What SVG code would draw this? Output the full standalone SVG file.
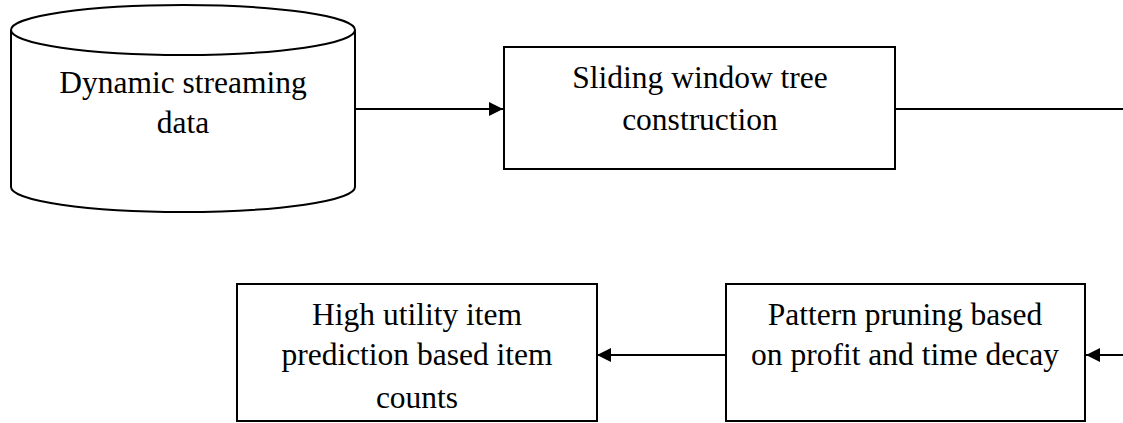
<svg xmlns="http://www.w3.org/2000/svg" width="1123" height="423" viewBox="0 0 1123 423">
<style>
.s{fill:none;stroke:#000;stroke-width:2}
.b{fill:#fff;stroke:#000;stroke-width:2}
.t{font-family:"Liberation Serif","Times New Roman",serif;font-size:31.5px;fill:#000;text-anchor:middle}
</style>
<defs>
<marker id="ah" markerWidth="14" markerHeight="14" refX="14" refY="7" orient="auto" markerUnits="userSpaceOnUse">
<path d="M0,0 L14,7 L0,14 Z" fill="#000"/>
</marker>
</defs>
<rect width="1123" height="423" fill="#fff"/>
<g id="connectors">
<line class="s" x1="356" y1="109" x2="503" y2="109" marker-end="url(#ah)"/>
<line class="s" x1="896" y1="109" x2="1123" y2="109"/>
<line class="s" x1="1123" y1="355" x2="1086" y2="355" marker-end="url(#ah)"/>
<line class="s" x1="726" y1="355" x2="597" y2="355" marker-end="url(#ah)"/>
</g>
<g id="node-data">
<path class="b" d="M11,30 A172,25 0 0 1 355,30 L355,187 A172,25 0 0 1 11,187 Z"/>
<path class="s" d="M11,30 A172,25 0 0 0 355,30"/>
<text class="t" x="183" y="93">Dynamic streaming</text>
<text class="t" x="183" y="133">data</text>
</g>
<g id="node-sliding">
<rect class="b" x="504" y="47" width="391" height="122"/>
<text class="t" x="700" y="88">Sliding window tree</text>
<text class="t" x="700" y="130">construction</text>
</g>
<g id="node-pattern">
<rect class="b" x="726" y="284" width="359" height="137"/>
<text class="t" x="905" y="325">Pattern pruning based</text>
<text class="t" x="905" y="365">on profit and time decay</text>
</g>
<g id="node-high">
<rect class="b" x="237" y="284" width="360" height="137"/>
<text class="t" x="417" y="325">High utility item</text>
<text class="t" x="417" y="365">prediction based item</text>
<text class="t" x="417" y="408">counts</text>
</g>
</svg>
